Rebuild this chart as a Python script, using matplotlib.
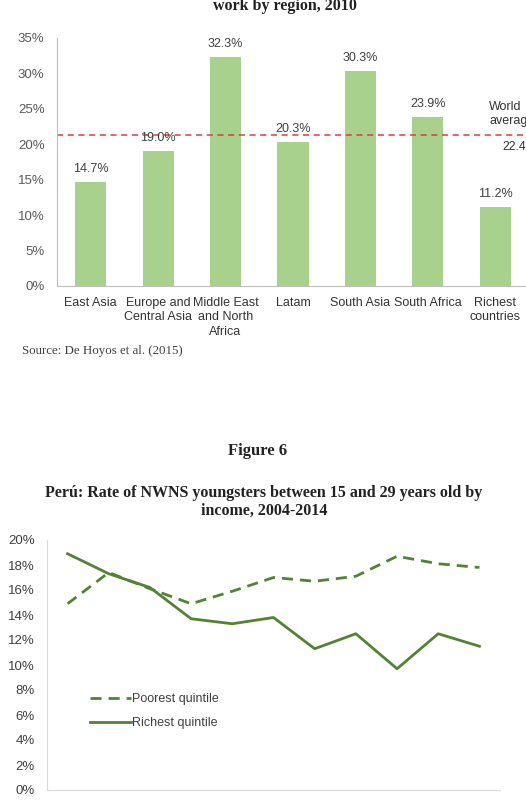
import matplotlib.pyplot as plt
import numpy as np

regions = ['East Asia', 'Europe and\nCentral Asia', 'Middle East\nand North\nAfrica', 'Latam',
           'South Asia', 'South Africa', 'Richest\ncountries']
region_rates = [14.7, 19.0, 32.3, 20.3, 30.3, 23.9, 11.2]
world_avg_line = 21.3
world_avg_label = '22.4%'

years = [2004, 2005, 2006, 2007, 2008, 2009, 2010, 2011, 2012, 2013, 2014]
poorest = [14.9, 17.4, 16.1, 14.9, 15.9, 17.0, 16.7, 17.1, 18.7, 18.1, 17.8]
richest = [18.9, 17.3, 16.2, 13.7, 13.3, 13.8, 11.3, 12.5, 9.7, 12.5, 11.5]

W, H = 526, 801
sans = 'Liberation Sans'
serif = 'Liberation Serif'
bar_green = '#A9D18E'
line_green = '#548235'

fig = plt.figure(figsize=(W / 100, H / 100), dpi=100)

def box(x0, y0, x1, y1):
    # pixel box (top-left origin) -> figure fraction
    return [x0 / W, 1 - y1 / H, (x1 - x0) / W, (y1 - y0) / H]

# --- top chart: bars by region
ax1 = fig.add_axes(box(57, 38, 529, 286))
ind = np.arange(len(regions))
ax1.bar(ind, region_rates, 0.46, color=bar_green)
for i, v in zip(ind, region_rates):
    ax1.text(i, v + 1.0, f'{v:.1f}%', ha='center', va='bottom', fontsize=9,
             family=sans, color='#404040')
ax1.axhline(world_avg_line, color='#E03A3A', lw=1.1, ls=(0, (4, 3)))
ax1.set_xlim(-0.5, len(regions) - 0.5)
ax1.set_ylim(0, 35)
ax1.set_yticks(np.arange(0, 36, 5))
ax1.set_yticklabels([f'{t}%' for t in range(0, 36, 5)])
ax1.set_xticks(ind)
ax1.set_xticklabels(regions, linespacing=1.25)
for s in ['top', 'right']:
    ax1.spines[s].set_visible(False)
for s in ['left', 'bottom']:
    ax1.spines[s].set_color('#BFBFBF')
ax1.tick_params(axis='y', length=0, pad=9, labelsize=9.5, labelcolor='#595959')
ax1.tick_params(axis='x', length=0, pad=8, labelsize=9, labelcolor='#333333')
for lbl in ax1.get_xticklabels() + ax1.get_yticklabels():
    lbl.set_family(sans)

fig.text(489 / W, 1 - 101 / H, 'World\naverage', ha='left', va='top', fontsize=9,
         family=sans, color='#333333', linespacing=1.25)
fig.text(502 / W, 1 - 147 / H, world_avg_label, ha='left', va='center', fontsize=8.7,
         family=sans, color='#333333')

fig.text(285 / W, 1 - 6 / H, 'work by region, 2010', ha='center', va='center',
         fontsize=11.5, family=serif, weight='bold', color='#222222')
fig.text(22 / W, 1 - 351 / H, 'Source: De Hoyos et al. (2015)', ha='left', va='center',
         fontsize=9.3, family=serif, color='#404040')

# --- bottom chart: Peru lines
fig.text(258 / W, 1 - 451 / H, 'Figure 6', ha='center', va='center',
         fontsize=12, family=serif, weight='bold', color='#222222')
fig.text(264 / W, 1 - 502 / H,
         'Perú: Rate of NWNS youngsters between 15 and 29 years old by\nincome, 2004-2014',
         ha='center', va='center', fontsize=11.5, family=serif, weight='bold',
         color='#222222', linespacing=1.15)

ax2 = fig.add_axes(box(47, 540, 500, 790))
x = np.arange(len(years))
ax2.plot(x, poorest, color=line_green, lw=2, ls=(0, (4, 2.5)), label='Poorest quintile')
ax2.plot(x, richest, color=line_green, lw=2, label='Richest quintile')
ax2.set_xlim(-0.5, len(years) - 0.5)
ax2.set_ylim(0, 20)
ax2.set_yticks(np.arange(0, 21, 2))
ax2.set_yticklabels([f'{t}%' for t in range(0, 21, 2)])
ax2.set_xticks(x)
ax2.set_xticklabels([str(y) for y in years])
ax2.tick_params(axis='x', length=0, labelbottom=False)
ax2.tick_params(axis='y', length=0, pad=9, labelsize=9.5, labelcolor='#404040')
for lbl in ax2.get_yticklabels():
    lbl.set_family(sans)
for s in ['top', 'right']:
    ax2.spines[s].set_visible(False)
for s in ['left', 'bottom']:
    ax2.spines[s].set_color('#D9D9D9')
leg = ax2.legend(loc='upper left', bbox_to_anchor=(0.07, 0.433), frameon=False,
                 handlelength=3.3, handletextpad=0.1, labelspacing=0.95,
                 prop={'family': sans, 'size': 9})
for t in leg.get_texts():
    t.set_color('#404040')

fig.savefig('out.png', dpi=100)
